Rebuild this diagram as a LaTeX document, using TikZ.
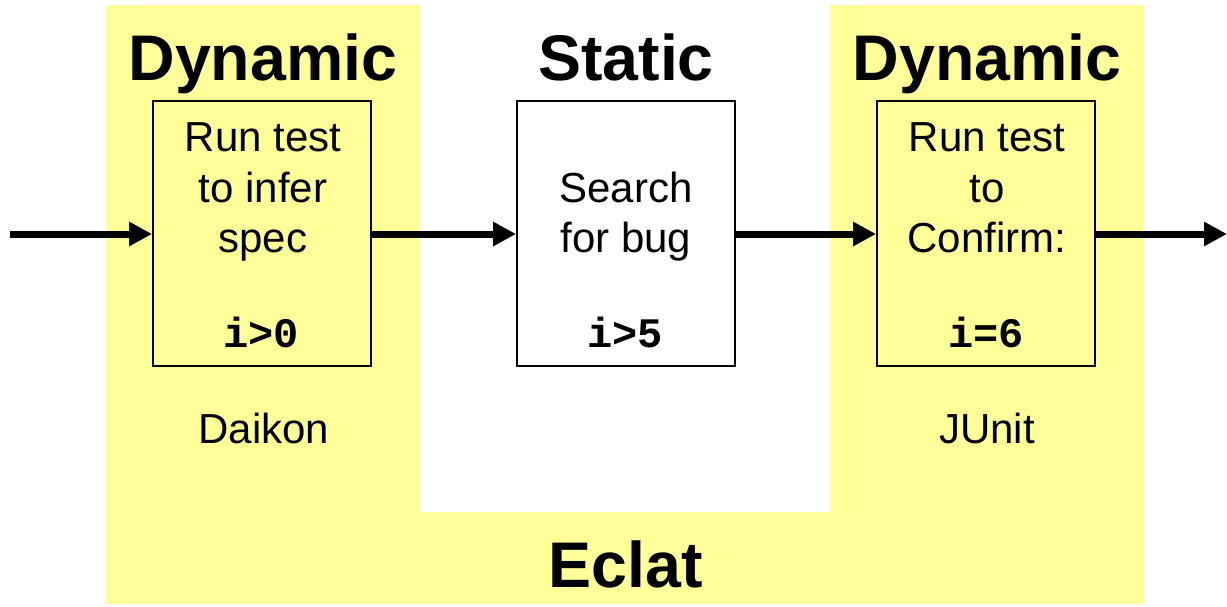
\documentclass[tikz,border=0pt]{standalone}
\usepackage{fontspec}
\setmainfont{Liberation Sans}
\setmonofont{Liberation Mono}
\usetikzlibrary{arrows.meta}
\definecolor{bgyellow}{HTML}{FFFF99}
\tikzset{
  stepbox/.style={draw=black, line width=1.8pt, minimum width=218pt, minimum height=265pt, inner sep=0pt},
  flow/.style={line width=7pt, -{Triangle[length=23pt,width=23pt]}},
  title/.style={font=\fontsize{64.5}{64.5}\selectfont\bfseries, anchor=base, inner sep=0pt},
  body/.style={font=\fontsize{42}{42}\selectfont, anchor=base, inner sep=0pt},
  code/.style={font=\fontsize{42}{42}\selectfont\ttfamily\bfseries, anchor=base, inner sep=0pt},
}
\begin{document}
\begin{tikzpicture}[x=1pt,y=-1pt]
\useasboundingbox (0,0) rectangle (1227,606);
% yellow U-shaped background
\fill[bgyellow] (106,5) -- (419,5) -- (419,512) -- (830,512) -- (830,5) -- (1143,5) -- (1143,604) -- (106,604) -- cycle;
% boxes
\node[stepbox, fill=bgyellow] (b1) at (262,233.5) {};
\node[stepbox, fill=white] (b2) at (626,233.5) {};
\node[stepbox, fill=bgyellow] (b3) at (986,233.5) {};
% titles
\node[title] (t1) at (263,80.5) {Dynamic};
\node[title] (t2) at (626,80.5) {Static};
\node[title] (t3) at (987,80.5) {Dynamic};
\node[title] (t4) at (626,587) {Eclat};
% box texts
\node[body] (l11) at (263,151) {Run test};
\node[body] (l12) at (263,202) {to infer};
\node[body] (l13) at (263,252) {spec};
\node[code] (c1) at (261,347) {i>0};
\node[body] (l21) at (626,202) {Search};
\node[body] (l22) at (626,252) {for bug};
\node[code] (c2) at (625,347) {i>5};
\node[body] (l31) at (987,151) {Run test};
\node[body] (l32) at (987,202) {to};
\node[body] (l33) at (987,252) {Confirm:};
\node[code] (c3) at (986,347) {i=6};
\node[body] (d1) at (264,443) {Daikon};
\node[body] (d3) at (987,443) {JUnit};
% arrows
\coordinate (in) at (10,234);
\coordinate (out) at (1227,234);
\draw[flow] (in) -- (b1.west |- in);
\draw[flow] (b1.east |- in) -- (b2.west |- in);
\draw[flow] (b2.east |- in) -- (b3.west |- in);
\draw[flow] (b3.east |- in) -- (out);
\end{tikzpicture}
\end{document}
